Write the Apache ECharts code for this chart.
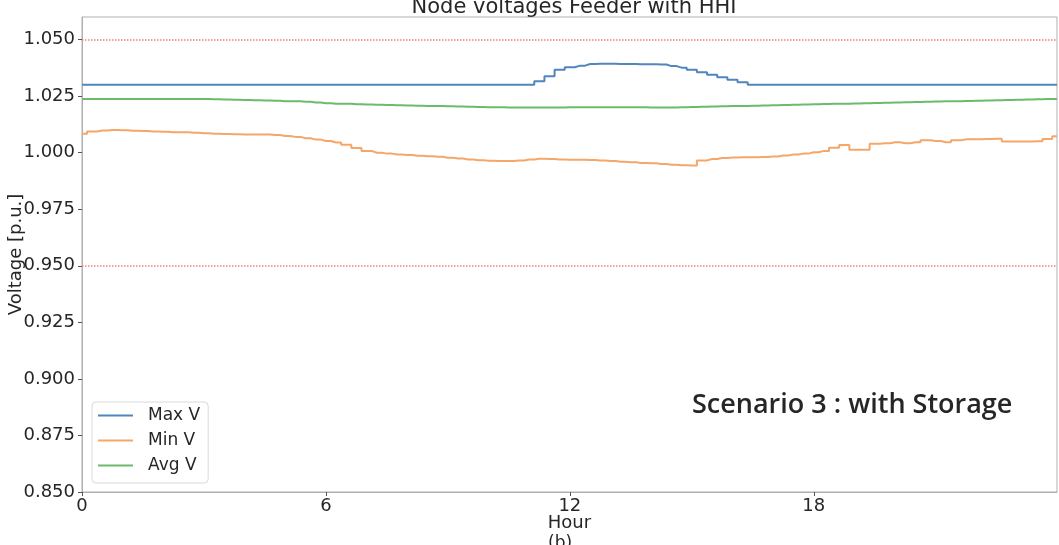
<!DOCTYPE html>
<html>
<head>
<meta charset="utf-8">
<script src="https://cdn.jsdelivr.net/npm/echarts@6/dist/echarts.min.js"></script>
<style>
  html, body { margin: 0; padding: 0; background: #fff; }
  #chart { width: 1059px; height: 545px; }
</style>
</head>
<body>
<div id="chart"></div>
<script>
// time axis in hours (15 min samples, last sample at minute 1439)
const hours = [
  0, 0.25, 0.5, 0.75, 1, 1.25, 1.5, 1.75, 2, 2.25, 2.5, 2.75,
  3, 3.25, 3.5, 3.75, 4, 4.25, 4.5, 4.75, 5, 5.25, 5.5, 5.75,
  6, 6.25, 6.5, 6.75, 7, 7.25, 7.5, 7.75, 8, 8.25, 8.5, 8.75,
  9, 9.25, 9.5, 9.75, 10, 10.25, 10.5, 10.75, 11, 11.25, 11.5, 11.75,
  12, 12.25, 12.5, 12.75, 13, 13.25, 13.5, 13.75, 14, 14.25, 14.5, 14.75,
  15, 15.25, 15.5, 15.75, 16, 16.25, 16.5, 16.75, 17, 17.25, 17.5, 17.75,
  18, 18.25, 18.5, 18.75, 19, 19.25, 19.5, 19.75, 20, 20.25, 20.5, 20.75,
  21, 21.25, 21.5, 21.75, 22, 22.25, 22.5, 22.75, 23, 23.25, 23.5, 23.75, 23.983
]

const maxV = [
  1.030, 1.030, 1.030, 1.030, 1.030, 1.030, 1.030, 1.030, 1.030, 1.030, 1.030, 1.030,
  1.030, 1.030, 1.030, 1.030, 1.030, 1.030, 1.030, 1.030, 1.030, 1.030, 1.030, 1.030,
  1.030, 1.030, 1.030, 1.030, 1.030, 1.030, 1.030, 1.030, 1.030, 1.030, 1.030, 1.030,
  1.030, 1.030, 1.030, 1.030, 1.030, 1.030, 1.030, 1.030, 1.030, 1.0316, 1.0338, 1.0367,
  1.0378, 1.0385, 1.0392, 1.0393, 1.0393, 1.0392, 1.0392, 1.0391, 1.0391, 1.0390, 1.0383, 1.0376,
  1.0367, 1.0356, 1.0345, 1.0334, 1.0323, 1.0312, 1.030, 1.030, 1.030, 1.030, 1.030, 1.030,
  1.030, 1.030, 1.030, 1.030, 1.030, 1.030, 1.030, 1.030, 1.030, 1.030, 1.030, 1.030,
  1.030, 1.030, 1.030, 1.030, 1.030, 1.030, 1.030, 1.030, 1.030, 1.030, 1.030, 1.030, 1.030
]

const minV = [
  1.0084, 1.0094, 1.0098, 1.0100, 1.0099, 1.0097, 1.0096, 1.0094, 1.0093, 1.0091, 1.0090, 1.0088,
  1.0086, 1.0084, 1.0083, 1.0082, 1.0081, 1.0081, 1.0080, 1.0078, 1.0074, 1.0070, 1.0064, 1.0058,
  1.0052, 1.0045, 1.0035, 1.0021, 1.0008, 1.0000, 0.9996, 0.9992, 0.9990, 0.9987, 0.9984, 0.9982,
  0.9978, 0.9974, 0.9970, 0.9967, 0.9965, 0.9963, 0.9963, 0.9966, 0.9970, 0.9973, 0.9972, 0.9970,
  0.9969, 0.9969, 0.9968, 0.9966, 0.9963, 0.9960, 0.9958, 0.9955, 0.9953, 0.9950, 0.9947, 0.9945,
  0.9944, 0.9966, 0.9972, 0.9977, 0.9979, 0.9980, 0.9980, 0.9981, 0.9983, 0.9988, 0.9992, 0.9996,
  1.0002, 1.0008, 1.0022, 1.0034, 1.0013, 1.0013, 1.0040, 1.0042, 1.0046, 1.0042, 1.0046, 1.0055,
  1.0052, 1.0046, 1.0055, 1.0059, 1.0060, 1.0061, 1.0062, 1.0050, 1.0050, 1.0050, 1.0051, 1.0061, 1.0073
]

const avgV = [
  1.0238, 1.0238, 1.0238, 1.0238, 1.0238, 1.0238, 1.0238, 1.0238, 1.0238, 1.0238, 1.0238, 1.0238,
  1.0237, 1.0236, 1.0235, 1.0234, 1.0233, 1.0232, 1.0231, 1.0230, 1.0228, 1.0227, 1.0225, 1.0222,
  1.0219, 1.0217, 1.0216, 1.0214, 1.0213, 1.0212, 1.0211, 1.0210, 1.0209, 1.0208, 1.0207, 1.0206,
  1.0205, 1.0204, 1.0203, 1.0202, 1.0201, 1.0201, 1.0200, 1.0200, 1.0200, 1.0200, 1.0200, 1.0200,
  1.0201, 1.0201, 1.0201, 1.0201, 1.0201, 1.0201, 1.0201, 1.0201, 1.0200, 1.0200, 1.0200, 1.0201,
  1.0202, 1.0203, 1.0204, 1.0205, 1.0206, 1.0207, 1.0208, 1.0209, 1.0210, 1.0211, 1.0212, 1.0213,
  1.0214, 1.0215, 1.0216, 1.0217, 1.0218, 1.0219, 1.0220, 1.0221, 1.0222, 1.0223, 1.0224, 1.0225,
  1.0226, 1.0227, 1.0228, 1.0229, 1.0230, 1.0231, 1.0232, 1.0233, 1.0234, 1.0235, 1.0236, 1.0237, 1.0238
]

const limits = [1.05, 0.95]
const seriesNames = ['Max V', 'Min V', 'Avg V']
const colors = ['#4f87bd', '#f5a76a', '#6cba6c']
const font = 'DejaVu Sans'
const textColor = '#262626'
const frameColor = '#b0b0b0'

function pairs(values) {
  return hours.map((h, i) => [h, values[i]])
}

function lineSeries(idx, values) {
  return {
    name: seriesNames[idx], type: 'line', step: 'middle', symbol: 'none',
    data: pairs(values), color: colors[idx],
    lineStyle: { width: 2, color: colors[idx] }
  }
}

const chart = echarts.init(document.getElementById('chart'))
const maxSeries = lineSeries(0, maxV)
maxSeries.markLine = {
  silent: true, symbol: 'none', label: { show: false },
  lineStyle: { type: 'dotted', color: '#f28080', width: 1.5 },
  data: limits.map(v => ({ yAxis: v }))
}

const options = {
  animation: false,
  backgroundColor: '#fff',
  title: {
    text: 'Node voltages Feeder with HHI',
    left: 569,
    textAlign: 'center',
    top: -8,
    textStyle: { fontFamily: font, fontSize: 21, fontWeight: 'normal', color: textColor }
  },
  grid: {
    left: 82, right: 2, top: 17, bottom: 53,
    containLabel: false, outerBoundsMode: 'none',
    show: true, borderColor: frameColor, borderWidth: 1
  },
  legend: {
    data: seriesNames.map(n => ({ name: n, icon: 'rect' })),
    orient: 'vertical',
    left: 92, top: 402,
    itemWidth: 35, itemHeight: 2, itemGap: 8,
    padding: [5, 8, 9, 6],
    borderColor: '#d9d9d9', borderWidth: 1, borderRadius: 4,
    backgroundColor: 'rgba(255,255,255,0.8)',
    textStyle: { fontFamily: font, fontSize: 17, color: textColor, lineHeight: 17, padding: [0, 0, 0, 10] }
  },
  xAxis: {
    type: 'value',
    min: 0, max: 23.983, interval: 6,
    name: 'Hour', nameLocation: 'middle', nameGap: 22, nameMoveOverlap: false,
    nameTextStyle: { fontFamily: font, fontSize: 18, color: textColor },
    axisLine: { show: true, lineStyle: { color: frameColor } },
    axisTick: { show: true, length: 4, lineStyle: { color: '#555' } },
    axisLabel: { fontFamily: font, fontSize: 18, color: textColor, margin: 5, showMaxLabel: false },
    splitLine: { show: false }
  },
  yAxis: {
    type: 'value',
    min: 0.85, max: 1.06, interval: 0.025,
    name: 'Voltage [p.u.]', nameLocation: 'middle', nameGap: 57, nameMoveOverlap: false,
    nameTextStyle: { fontFamily: font, fontSize: 18, color: textColor },
    axisLine: { show: true, lineStyle: { color: frameColor } },
    axisTick: { show: true, length: 4, lineStyle: { color: '#555' } },
    axisLabel: {
      fontFamily: font, fontSize: 18, color: textColor, margin: 7, showMaxLabel: false,
      formatter: v => v.toFixed(3)
    },
    splitLine: { show: false }
  },
  series: [
    maxSeries,
    lineSeries(1, minV),
    lineSeries(2, avgV)
  ],
  graphic: [
    {
      type: 'text', left: 692, top: 392,
      style: { text: 'Scenario 3 : with Storage', font: '600 27px "Open Sans"', fill: textColor }
    },
    {
      type: 'text', left: 548, top: 535,
      style: { text: '(b)', font: '17px "DejaVu Sans"', fill: textColor }
    }
  ]
}
chart.setOption(options)
</script>
</body>
</html>
